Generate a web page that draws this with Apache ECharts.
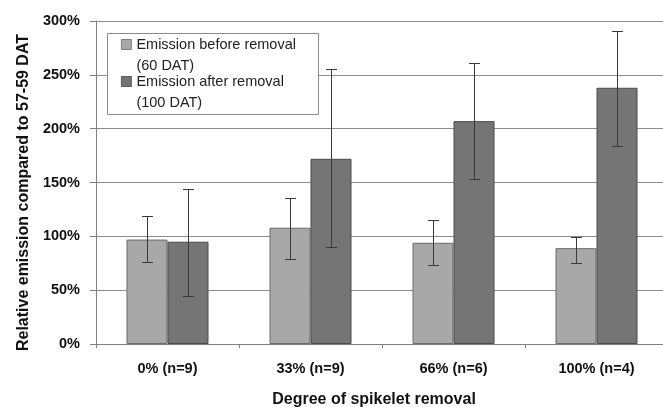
<!DOCTYPE html>
<html>
<head>
<meta charset="utf-8">
<script src="https://cdn.jsdelivr.net/npm/echarts@6/dist/echarts.min.js"></script>
<style>
html,body{margin:0;padding:0;background:#fff;}
#chart{width:663px;height:407px;}
</style>
</head>
<body>
<div id="chart"></div>
<script>
// ---- data ----
const categories = ['0% (n=9)', '33% (n=9)', '66% (n=6)', '100% (n=4)'];
const seriesNames = ['Emission before removal\n(60 DAT)', 'Emission after removal\n(100 DAT)'];
const beforeValues = [97, 108, 94, 89];
const beforeLow = [76, 79, 73, 75];
const beforeHigh = [119, 136, 115, 99];
const afterValues = [95, 172, 207, 238];
const afterLow = [45, 90, 153, 184];
const afterHigh = [144, 255, 261, 291];
const yTicks = [0, 50, 100, 150, 200, 250, 300];

// ---- style ----
const FONT = 'Liberation Sans, Arial, sans-serif';
const BAR_W = 41;
const lightColor = '#a8a8a8';
const darkColor = '#757575';

function errData(low, high) {
  return categories.map((c, i) => [i, low[i], high[i]]);
}
function errSeries(low, high, offset) {
  return {
    type: 'custom',
    z: 5,
    silent: true,
    data: errData(low, high),
    renderItem: function (params, api) {
      const i = api.value(0);
      const pLow = api.coord([i, api.value(1)]);
      const pHigh = api.coord([i, api.value(2)]);
      const x = Math.round(pLow[0] + offset) + 0.5;
      const yl = Math.round(pLow[1]) + 0.5;
      const yh = Math.round(pHigh[1]) + 0.5;
      const cap = 5.5;
      const st = { stroke: '#3a3a3a', lineWidth: 1 };
      return {
        type: 'group',
        children: [
          { type: 'line', shape: { x1: x, y1: yl, x2: x, y2: yh }, style: st },
          { type: 'line', shape: { x1: x - cap, y1: yh, x2: x + cap, y2: yh }, style: st },
          { type: 'line', shape: { x1: x - cap, y1: yl, x2: x + cap, y2: yl }, style: st }
        ]
      };
    }
  };
}

const chart = echarts.init(document.getElementById('chart'), null, { renderer: 'canvas' });
chart.setOption({
  backgroundColor: '#ffffff',
  animation: false,
  textStyle: { fontFamily: FONT },
  grid: { left: 96, right: -5, top: 21, bottom: 63, containLabel: false, outerBoundsMode: 'none' },
  graphic: [{
    type: 'rect',
    z: 3,
    shape: { x: 107.5, y: 33.5, width: 211, height: 81 },
    style: { fill: '#ffffff', stroke: '#8a8a8a', lineWidth: 1 }
  }],
  legend: {
    orient: 'vertical',
    left: 121,
    top: 34,
    padding: 0,
    itemGap: -5,
    itemWidth: 10,
    itemHeight: 31,
    icon: 'path://M0,0L10,0L10,10L0,10Z M0,31L0,31',
    textStyle: { fontFamily: FONT, fontSize: 14.5, color: '#222', lineHeight: 21 },
    data: [
      { name: seriesNames[0], itemStyle: { color: lightColor, borderColor: '#6a6a6a', borderWidth: 0.8 } },
      { name: seriesNames[1], itemStyle: { color: darkColor, borderColor: '#444', borderWidth: 0.8 } }
    ]
  },
  xAxis: {
    type: 'category',
    data: categories,
    name: 'Degree of spikelet removal',
    nameLocation: 'middle',
    nameGap: 48,
    nameTextStyle: { fontFamily: FONT, fontSize: 16, fontWeight: 'bold', color: '#111', padding: [0, 16, 0, 0] },
    axisLine: { lineStyle: { color: '#808080', width: 1 } },
    axisTick: { show: true, length: 4, lineStyle: { color: '#808080' } },
    axisLabel: { fontFamily: FONT, fontSize: 14.5, fontWeight: 'bold', color: '#111', margin: 17 },
    splitLine: { show: false }
  },
  yAxis: {
    type: 'value',
    min: 0,
    max: 300,
    interval: 50,
    name: 'Relative emission compared to 57-59 DAT',
    nameLocation: 'middle',
    nameGap: 60,
    nameTextStyle: { fontFamily: FONT, fontSize: 16, fontWeight: 'bold', color: '#111', padding: [0, 20, 0, 0] },
    axisLine: { show: true, lineStyle: { color: '#808080', width: 1 } },
    axisTick: { show: true, length: 6, inside: false, lineStyle: { color: '#808080' } },
    axisLabel: {
      fontFamily: FONT, fontSize: 14.5, fontWeight: 'bold', color: '#111', margin: 16,
      formatter: function (v) { return yTicks.indexOf(v) >= 0 ? v + '%' : ''; }
    },
    splitLine: { show: true, lineStyle: { color: '#8c8c8c', width: 1 } }
  },
  series: [
    {
      name: seriesNames[0],
      type: 'bar',
      barWidth: BAR_W,
      barGap: '0%',
      data: beforeValues,
      itemStyle: { color: lightColor, borderColor: '#6a6a6a', borderWidth: 1 }
    },
    {
      name: seriesNames[1],
      type: 'bar',
      barWidth: BAR_W,
      barGap: '0%',
      data: afterValues,
      itemStyle: { color: darkColor, borderColor: '#4a4a4a', borderWidth: 1 }
    },
    errSeries(beforeLow, beforeHigh, -BAR_W / 2),
    errSeries(afterLow, afterHigh, BAR_W / 2)
  ]
});
</script>
</body>
</html>
